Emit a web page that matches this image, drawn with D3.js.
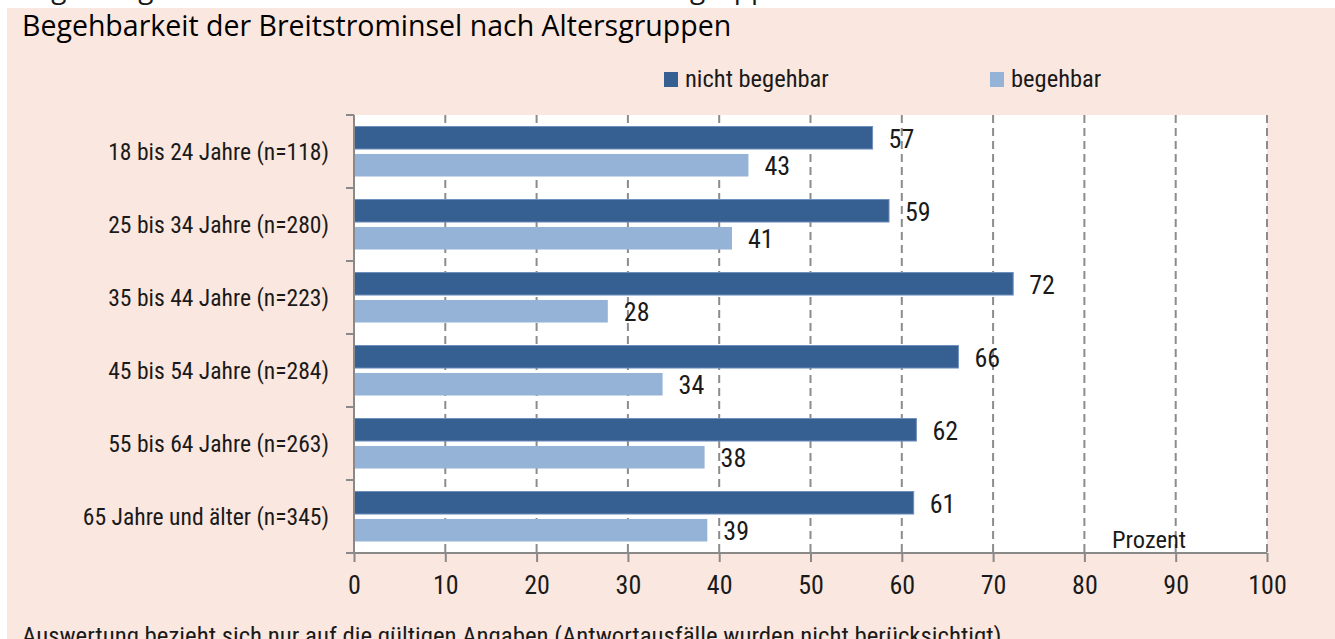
<!DOCTYPE html>
<html>
<head>
<meta charset="utf-8">
<script src="https://cdn.jsdelivr.net/npm/d3@7"></script>
<style>
  body { margin: 0; background: #fff; }
  svg { display: block; }
</style>
</head>
<body>
<div id="chart"></div>
<script>
// data
const categories = [
    "18 bis 24 Jahre (n=118)",
    "25 bis 34 Jahre (n=280)",
    "35 bis 44 Jahre (n=223)",
    "45 bis 54 Jahre (n=284)",
    "55 bis 64 Jahre (n=263)",
    "65 Jahre und älter (n=345)"
];
const seriesNames = ["nicht begehbar", "begehbar"];
const nichtBegehbar = [56.8, 58.6, 72.2, 66.2, 61.6, 61.3];
const begehbar = [43.2, 41.4, 27.8, 33.8, 38.4, 38.7];
const xTicks = [0, 10, 20, 30, 40, 50, 60, 70, 80, 90, 100];

const colors = ["#376092", "#95b3d7"];
const condFont = "'Liberation Sans Narrow','Roboto Condensed','DejaVu Sans Condensed','Arial Narrow',sans-serif";
const titleFont = "'Open Sans', sans-serif";
const textColor = "#1a1a1a";

const W = 1335, H = 639;
const plot = { left: 354, right: 1267, top: 115, bottom: 553 };

const svg = d3.select("#chart")
    .append("svg")
    .attr("width", W)
    .attr("height", H);

// panel background
svg.append("rect")
    .attr("x", 7).attr("y", 8)
    .attr("width", W - 7).attr("height", H - 8)
    .attr("fill", "#fae7df");

// cut-off caption line above the panel
svg.append("text")
    .attr("x", 801).attr("y", -2)
    .attr("text-anchor", "end")
    .style("font-family", titleFont)
    .style("font-size", "28px")
    .attr("fill", textColor)
    .text("Abbildung 9: Begehbarkeit der Breitstrominsel nach Altersgruppen");

// title
svg.append("text")
    .attr("x", 22).attr("y", 36)
    .style("font-family", titleFont)
    .style("font-size", "28.5px")
    .attr("fill", "#000")
    .text("Begehbarkeit der Breitstrominsel nach Altersgruppen");

// plot background
svg.append("rect")
    .attr("x", plot.left).attr("y", plot.top)
    .attr("width", plot.right - plot.left)
    .attr("height", plot.bottom - plot.top)
    .attr("fill", "#fff");

const x = d3.scaleLinear()
    .domain([0, 100])
    .range([plot.left, plot.right]);

const y = d3.scaleBand()
    .domain(categories)
    .range([plot.top, plot.bottom])
    .paddingInner(0.315)
    .paddingOuter(0.1575);

const ySub = d3.scaleBand()
    .domain(seriesNames)
    .range([0, y.bandwidth()])
    .paddingInner(0.18);

// dashed gridlines
svg.append("g")
    .selectAll("line")
    .data(xTicks.filter(d => d > 0))
    .join("line")
    .attr("x1", d => x(d)).attr("x2", d => x(d))
    .attr("y1", plot.top).attr("y2", plot.bottom)
    .attr("stroke", "#8c8c8c")
    .attr("stroke-width", 2)
    .attr("stroke-dasharray", "8,5");

// bars
const rows = categories.map((c, i) => ({ cat: c, values: [nichtBegehbar[i], begehbar[i]] }));

const groups = svg.append("g")
    .selectAll("g")
    .data(rows)
    .join("g")
    .attr("transform", d => `translate(0,${y(d.cat)})`);

groups.selectAll("rect")
    .data(d => d.values.map((v, j) => ({ key: seriesNames[j], v, j })))
    .join("rect")
    .attr("x", x(0))
    .attr("y", d => ySub(d.key))
    .attr("width", d => x(d.v) - x(0))
    .attr("height", ySub.bandwidth())
    .attr("fill", d => colors[d.j])
    .attr("stroke", d => d.j === 0 ? "#6f8fbd" : "none")
    .attr("stroke-width", 1);

// value labels
groups.selectAll("text")
    .data(d => d.values.map((v, j) => ({ key: seriesNames[j], v })))
    .join("text")
    .attr("x", d => x(d.v) + 16)
    .attr("y", d => ySub(d.key) + ySub.bandwidth() / 2 + 10)
    .style("font-family", condFont)
    .style("font-size", "26px")
    .attr("fill", textColor)
    .text(d => Math.round(d.v));

// x axis
const xAxis = svg.append("g")
    .attr("transform", `translate(0,${plot.bottom})`)
    .call(d3.axisBottom(x).tickValues(xTicks).tickSize(9).tickPadding(14));
xAxis.select(".domain")
    .attr("stroke", "#898989")
    .attr("stroke-width", 2)
    .attr("d", `M${plot.left},0H${plot.right}`);
xAxis.selectAll(".tick line")
    .attr("stroke", "#898989")
    .attr("stroke-width", 2);
xAxis.selectAll(".tick text")
    .style("font-family", condFont)
    .style("font-size", "26px")
    .attr("fill", textColor);

// y axis: category labels and boundary ticks
svg.append("line")
    .attr("x1", plot.left).attr("x2", plot.left)
    .attr("y1", plot.top).attr("y2", plot.bottom)
    .attr("stroke", "#898989")
    .attr("stroke-width", 2);

const bounds = categories.map(c => y(c) - y.step() * y.paddingInner() / 2).concat([plot.bottom]);
svg.append("g")
    .selectAll("line")
    .data(bounds)
    .join("line")
    .attr("x1", plot.left - 8).attr("x2", plot.left)
    .attr("y1", d => d).attr("y2", d => d)
    .attr("stroke", "#898989")
    .attr("stroke-width", 2);

svg.append("g")
    .selectAll("text")
    .data(categories)
    .join("text")
    .attr("x", 329)
    .attr("y", d => y(d) + y.bandwidth() / 2 + 8.5)
    .attr("text-anchor", "end")
    .style("font-family", condFont)
    .style("font-size", "23.6px")
    .attr("fill", textColor)
    .text(d => d);

// unit label
svg.append("text")
    .attr("x", 1112).attr("y", 548)
    .style("font-family", condFont)
    .style("font-size", "24.5px")
    .attr("fill", textColor)
    .text("Prozent");

// legend
const legendX = [664, 990];
const legend = svg.append("g")
    .selectAll("g")
    .data(seriesNames)
    .join("g")
    .attr("transform", (d, i) => `translate(${legendX[i]},72)`);
legend.append("rect")
    .attr("width", 14).attr("height", 15)
    .attr("fill", (d, i) => colors[i]);
legend.append("text")
    .attr("x", 21).attr("y", 15)
    .style("font-family", condFont)
    .style("font-size", "24.5px")
    .attr("fill", textColor)
    .text(d => d);

// footnote
svg.append("text")
    .attr("x", 22).attr("y", 644)
    .style("font-family", condFont)
    .style("font-size", "24.8px")
    .attr("fill", textColor)
    .text("Auswertung bezieht sich nur auf die gültigen Angaben (Antwortausfälle wurden nicht berücksichtigt).");
</script>
</body>
</html>
